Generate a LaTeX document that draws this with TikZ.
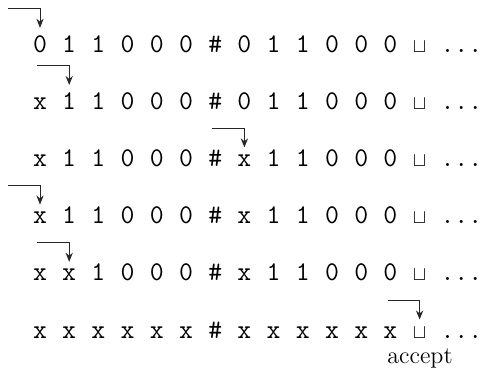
\documentclass[tikz,border=0pt]{standalone}
\usepackage{fontspec}
\usetikzlibrary{arrows.meta}
\newcommand{\blank}{{\fontsize{10}{10}\selectfont$\sqcup$}}
\newcommand{\more}{\hspace{-2.6pt}...\hspace{-2.6pt}}

\begin{document}
\begin{tikzpicture}[
  x=0.5pt, y=-0.5pt,
  cell/.style={anchor=base, inner sep=3.5pt, font=\ttfamily\fontsize{13.5}{15}\selectfont},
  dots/.style={cell, inner sep=0pt},
  head/.style={draw=black!85, line width=0.5pt, -{Stealth[length=4.5pt,width=3.6pt]}},
  note/.style={anchor=base, inner sep=1pt, font=\fontsize{12}{14}\selectfont},
]
\useasboundingbox (0,0) rectangle (481,380);
% tape after each pass
\foreach \s [count=\i from 0] in {0,1,1,0,0,0,\#,0,1,1,0,0,0,\blank}
  \node[cell] (a-\i) at (40+29.2*\i,52) {\s};
\node[dots] (a-dots) at (464,52) {\more};
\foreach \s [count=\i from 0] in {x,1,1,0,0,0,\#,0,1,1,0,0,0,\blank}
  \node[cell] (b-\i) at (40+29.2*\i,109.2) {\s};
\node[dots] (b-dots) at (464,109.2) {\more};
\foreach \s [count=\i from 0] in {x,1,1,0,0,0,\#,x,1,1,0,0,0,\blank}
  \node[cell] (c-\i) at (40+29.2*\i,166.4) {\s};
\node[dots] (c-dots) at (464,166.4) {\more};
\foreach \s [count=\i from 0] in {x,1,1,0,0,0,\#,x,1,1,0,0,0,\blank}
  \node[cell] (d-\i) at (40+29.2*\i,223.6) {\s};
\node[dots] (d-dots) at (464,223.6) {\more};
\foreach \s [count=\i from 0] in {x,x,1,0,0,0,\#,x,1,1,0,0,0,\blank}
  \node[cell] (e-\i) at (40+29.2*\i,280.8) {\s};
\node[dots] (e-dots) at (464,280.8) {\more};
\foreach \s [count=\i from 0] in {x,x,x,x,x,x,\#,x,x,x,x,x,x,\blank}
  \node[cell] (f-\i) at (40+29.2*\i,338) {\s};
\node[dots] (f-dots) at (464,338) {\more};
\node[note] (acc) at (420,363) {accept};

% head positions
\draw[head] (a-0.north) ++(-32,-19) -| (a-0.north);
\draw[head] (b-1.north) ++(-32,-19) -| (b-1.north);
\draw[head] (c-7.north) ++(-32,-19) -| (c-7.north);
\draw[head] (d-0.north) ++(-32,-19) -| (d-0.north);
\draw[head] (e-1.north) ++(-32,-19) -| (e-1.north);
\draw[head] (f-13.north) ++(-32,-19) -| (f-13.north);
\end{tikzpicture}
\end{document}
